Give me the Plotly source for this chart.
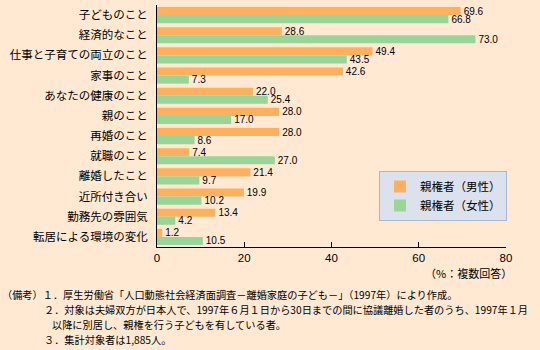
import plotly.graph_objects as go

categories = ["子どものこと", "経済的なこと", "仕事と子育ての両立のこと", "家事のこと",
              "あなたの健康のこと", "親のこと", "再婚のこと", "就職のこと",
              "離婚したこと", "近所付き合い", "勤務先の雰囲気", "転居による環境の変化"]
male = [69.6, 28.6, 49.4, 42.6, 22.0, 28.0, 28.0, 7.4, 21.4, 19.9, 13.4, 1.2]
female = [66.8, 73.0, 43.5, 7.3, 25.4, 17.0, 8.6, 27.0, 9.7, 10.2, 4.2, 10.5]
series_names = ["親権者（男性）", "親権者（女性）"]
x_ticks = [0, 20, 40, 60, 80]
unit_note = "（%：複数回答）"
notes = [
    "（備考）１．厚生労働省「人口動態社会経済面調査－離婚家庭の子ども－」（1997年）により作成。",
    "２．対象は夫婦双方が日本人で、1997年６月１日から30日までの間に協議離婚した者のうち、1997年１月",
    "以降に別居し、親権を行う子どもを有している者。",
    "３．集計対象者は1,885人。",
]

W, H = 540, 350
L, R, T, B = 157, 34, 5, 103
pw, ph = W - L - R, H - T - B

def px(x):
    return (x - L) / pw

def py(y):
    return (H - B - y) / ph

FONT = "Noto Sans CJK JP"
BG = "#FFE9D2"

fig = go.Figure()
fig.add_trace(go.Bar(y=categories, x=male, name=series_names[0], orientation="h",
                     marker=dict(color="#FFB05C", line=dict(width=0)),
                     text=[f"{v:.1f}" for v in male], textposition="outside",
                     constraintext="none",
                     textfont=dict(size=10, color="#000000", family="Liberation Sans"),
                     cliponaxis=False))
fig.add_trace(go.Bar(y=categories, x=female, name=series_names[1], orientation="h",
                     marker=dict(color="#98D698", line=dict(width=0)),
                     text=[f"{v:.1f}" for v in female], textposition="outside",
                     constraintext="none",
                     textfont=dict(size=10, color="#000000", family="Liberation Sans"),
                     cliponaxis=False))

annotations = [dict(text=unit_note, xref="paper", yref="paper", x=px(514), y=py(273),
                    xanchor="right", yanchor="middle", showarrow=False,
                    font=dict(size=11, family=FONT, color="#000000"))]
note_x = [0, 42, 50, 42]
note_y = [294, 309, 324, 339]
for t, xx, yy in zip(notes, note_x, note_y):
    annotations.append(dict(text=t, xref="paper", yref="paper", x=px(xx), y=py(yy),
                            xanchor="left", yanchor="middle", showarrow=False,
                            font=dict(size=10.2, family=FONT, color="#000000")))

fig.update_layout(
    width=W, height=H, margin=dict(l=L, r=R, t=T, b=B, pad=0),
    paper_bgcolor=BG, plot_bgcolor=BG,
    barmode="group", bargap=0.2, bargroupgap=0,
    font=dict(family=FONT, size=11, color="#000000"),
    showlegend=True,
    legend=dict(x=px(507), y=py(171), xanchor="right", yanchor="top",
                bgcolor="#DCE1EE", bordercolor="#A9B9CD", borderwidth=1,
                font=dict(size=11.5, family=FONT, color="#000000"),
                tracegroupgap=0),
    xaxis=dict(range=[0, 80], tickvals=x_ticks, ticks="inside", ticklen=5,
               tickcolor="#000000", showline=True, linecolor="#000000", linewidth=1,
               showgrid=False, zeroline=False,
               tickfont=dict(size=11.5, family="Liberation Sans", color="#000000")),
    yaxis=dict(autorange="reversed", showline=True, linecolor="#000000", linewidth=1,
               showgrid=False, ticks="", ticklabelstandoff=6,
               tickfont=dict(size=11.5, family=FONT, color="#000000")),
    annotations=annotations,
)

fig.write_html("out.html")
